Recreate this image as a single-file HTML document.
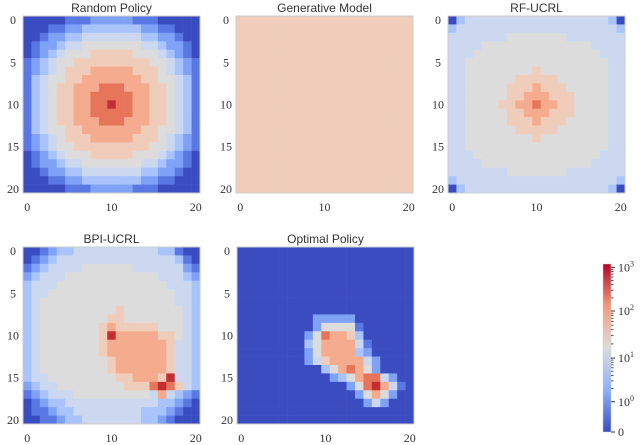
<!DOCTYPE html>
<html><head><meta charset="utf-8"><style>
body{margin:0;background:#fff;width:640px;height:445px;overflow:hidden}
svg{display:block}
.t{font-family:"Liberation Sans",sans-serif;font-size:12px;fill:#333}
.k{font-family:"Liberation Serif",serif;font-size:12px;fill:#333}
</style></head><body>
<svg id="fig" width="640" height="445" viewBox="0 0 640 445">
<defs><linearGradient id="cw" x1="0" y1="1" x2="0" y2="0">
<stop offset="0" stop-color="#3b4cc0"/><stop offset="0.25" stop-color="#8db0fe"/><stop offset="0.5" stop-color="#dddcdc"/><stop offset="0.75" stop-color="#f49a7b"/><stop offset="1" stop-color="#b40426"/></linearGradient></defs>
</svg>
<script>
const titles=["Random Policy","Generative Model","RF-UCRL","BPI-UCRL","Optimal Policy"];
const tickValues=[0,5,10,15,20];
const xTickValues=[0,10,20];
const randomPolicy=[
"000001112222211100000",
"000112233333332211000",
"001223344444443322100",
"012234455555554432210",
"012345556666655543210",
"123455666666666554321",
"123456667777766654321",
"134556677777776655431",
"134566777888777665431",
"134566778888877665431",
"134566778898877665431",
"134566778888877665431",
"134566777888777665431",
"134556677777776655431",
"123456667777766654321",
"123455666666666554321",
"012345556666655543210",
"012234455555554432210",
"001223344444443322100",
"000112233333332211000",
"000001112222211100000"];
const generativeModel=Array(21).fill("666666666666666666666");
const rfUcrl=[
"034444444444444444430",
"344444444444444444443",
"444444455555554444444",
"444455555555555554444",
"444555555555555555444",
"445555555555555555544",
"445555555565555555544",
"445555556666655555544",
"445555566676665555544",
"445555566777666555544",
"445555667787766555544",
"445555566777666555544",
"445555566676665555544",
"445555556666655555544",
"445555555565555555544",
"445555555555555555544",
"444555555555555555444",
"444455555555555554444",
"444444455555554444444",
"344444444444444444443",
"034444444444444444430"];
const bpiUcrl=[
"001233444444444433100",
"012344444444444444310",
"123444455555544444421",
"234445555555555544432",
"344455555555555554443",
"344555555555555555443",
"345555555555555555443",
"345555555556555555543",
"345555555566555555543",
"345555555676666655543",
"345555555697777766543",
"345555555677777776443",
"345555555677777776443",
"345555555567777776443",
"345555555567777776443",
"344555555556677769443",
"234455555555666898643",
"123444555555555474321",
"012334444444444433210",
"011233444444443332100",
"001123344444443321000"];
const optimalPolicy=[
"000000000000000000000",
"000000000000000000000",
"000000000000000000000",
"000000000000000000000",
"000000000000000000000",
"000000000000000000000",
"000000000000000000000",
"000000000000000000000",
"000000000222220000000",
"000000000255551000000",
"000000002587763000000",
"000000003577774100000",
"000000002577773200000",
"000000002467777420000",
"000000000035787520000",
"000000000002357884200",
"000000000000025897410",
"000000000000002575200",
"000000000000000242000",
"000000000000000000000",
"000000000000000000000"];
const cbLabels=["0","10","10","10","10"];
const cbExp=["","0","1","2","3"];
const cbPos=[0,0.18,0.44,0.72,0.98];
const grids=[randomPolicy,generativeModel,rfUcrl,bpiUcrl,optimalPolicy];
const palette=["#3b4cc0","#5a78e4","#7fa2f7","#a9c4fd","#cbd8ef","#dddcdc","#f0cdbb","#f5ab8d","#e7755c","#c32e31"];
const NS="http://www.w3.org/2000/svg";
const svg=document.getElementById('fig');
function mk(tag,attrs,parent){const e=document.createElementNS(NS,tag);for(const k in attrs)e.setAttribute(k,attrs[k]);(parent||svg).appendChild(e);return e;}
const panels=[[23,16],[236,16],[448,16],[23,247],[237,247]];
const S=177,N=21,w=S/N;
grids.forEach((g,p)=>{
  const [px,py]=panels[p];
  const grp=mk('g',{});
  
  
  const t=mk('text',{x:px+S/2,y:py-4,'text-anchor':'middle',class:'t'},grp);t.textContent=titles[p];
  
  
  for(let r=0;r<N;r++){const row=g[r]||"";for(let c=0;c<N;c++){
    const lv=parseInt(row[c]||"5");
    const cell=mk('rect',{x:px+c*w,y:py+r*w,width:w+0.3,height:w+0.3,fill:palette[lv]},grp);
    
    
  }}
  mk('rect',{x:px,y:py,width:S,height:S,fill:'none',stroke:'#ccc','stroke-width':1},grp);
  tickValues.forEach(v=>{const l=mk('text',{x:px-10,y:py+(v+0.5)*w+4,'text-anchor':'middle',class:'k'},grp);l.textContent=v;
    
    });
  xTickValues.forEach(v=>{const l=mk('text',{x:px+(v+0.5)*w,y:py+S+18,'text-anchor':'middle',class:'k'},grp);l.textContent=v;
    
    });
});
const cb=mk('g',{});


const cx=603,cy0=264,cy1=432,ch=cy1-cy0;
mk('rect',{x:cx,y:cy0,width:8,height:ch,fill:'url(#cw)',stroke:'#ccc','stroke-width':0.5},cb);
cbPos.forEach((f,i)=>{
  const y=cy1-f*ch;
  mk('line',{x1:cx+8,x2:cx+12,y1:y,y2:y,stroke:'#333','stroke-width':1},cb);
  const l=mk('text',{x:cx+15,y:y+4,class:'k','font-size':'11'},cb);
  l.textContent=cbLabels[i];
  if(cbExp[i]){const s=mk('tspan',{dy:-5,'font-size':'8'},l);s.textContent=cbExp[i];}
  
  
  if(i>0&&i<4){const y2=cy1-cbPos[i+1]*ch;for(let m=2;m<10;m++){const ym=y-(y-y2)*Math.log10(m);mk('line',{x1:cx+8,x2:cx+10.5,y1:ym,y2:ym,stroke:'#333','stroke-width':0.8},cb);}}
});
</script>
</body></html>
